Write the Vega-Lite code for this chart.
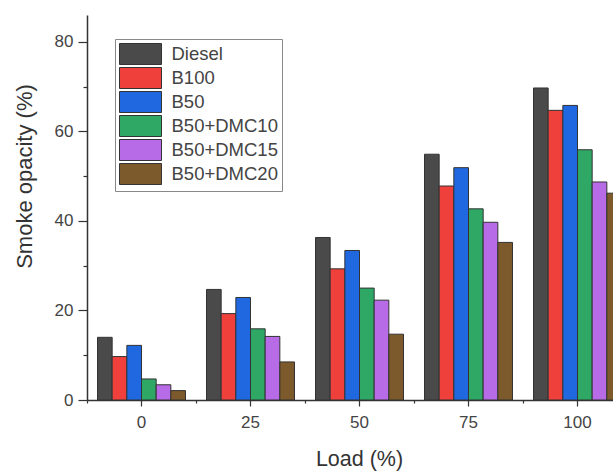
{
  "$schema": "https://vega.github.io/schema/vega-lite/v6.json",
  "autosize": {"type": "none"},
  "padding": {"left": 87, "top": 15, "right": 0, "bottom": 71},
  "width": 526,
  "height": 385,
  "background": "white",
  "config": {
    "view": {"stroke": null},
    "font": "Liberation Sans",
    "axis": {"labelFont": "Liberation Sans", "titleFont": "Liberation Sans", "labelColor": "#444", "titleColor": "#333", "domainColor": "#333", "tickColor": "#333", "grid": false}
  },
  "data": {"values": [
    {"load": "0", "fuel": "Diesel", "value": 14.0},
    {"load": "0", "fuel": "B100", "value": 9.7},
    {"load": "0", "fuel": "B50", "value": 12.2},
    {"load": "0", "fuel": "B50+DMC10", "value": 4.7},
    {"load": "0", "fuel": "B50+DMC15", "value": 3.4},
    {"load": "0", "fuel": "B50+DMC20", "value": 2.1},
    {"load": "25", "fuel": "Diesel", "value": 24.7},
    {"load": "25", "fuel": "B100", "value": 19.3},
    {"load": "25", "fuel": "B50", "value": 22.9},
    {"load": "25", "fuel": "B50+DMC10", "value": 15.9},
    {"load": "25", "fuel": "B50+DMC15", "value": 14.2},
    {"load": "25", "fuel": "B50+DMC20", "value": 8.5},
    {"load": "50", "fuel": "Diesel", "value": 36.3},
    {"load": "50", "fuel": "B100", "value": 29.3},
    {"load": "50", "fuel": "B50", "value": 33.4},
    {"load": "50", "fuel": "B50+DMC10", "value": 25.0},
    {"load": "50", "fuel": "B50+DMC15", "value": 22.3},
    {"load": "50", "fuel": "B50+DMC20", "value": 14.7},
    {"load": "75", "fuel": "Diesel", "value": 54.9},
    {"load": "75", "fuel": "B100", "value": 47.8},
    {"load": "75", "fuel": "B50", "value": 51.9},
    {"load": "75", "fuel": "B50+DMC10", "value": 42.7},
    {"load": "75", "fuel": "B50+DMC15", "value": 39.7},
    {"load": "75", "fuel": "B50+DMC20", "value": 35.2},
    {"load": "100", "fuel": "Diesel", "value": 69.7},
    {"load": "100", "fuel": "B100", "value": 64.7},
    {"load": "100", "fuel": "B50", "value": 65.8},
    {"load": "100", "fuel": "B50+DMC10", "value": 55.9},
    {"load": "100", "fuel": "B50+DMC15", "value": 48.7},
    {"load": "100", "fuel": "B50+DMC20", "value": 46.2}
  ]},
  "layer": [
    {
      "mark": {"type": "bar", "stroke": "#333", "strokeWidth": 1},
      "encoding": {
        "x": {"field": "load", "type": "nominal", "sort": ["0", "25", "50", "75", "100"],
          "scale": {"range": [0, 545], "paddingInner": 0, "paddingOuter": 0},
          "axis": {"orient": "bottom", "title": "Load (%)", "titleFontSize": 21.5, "titleFontWeight": "normal", "titleX": 272, "titleY": 65, "titleBaseline": "alphabetic", "titleAlign": "center", "labelAngle": 0, "labelFontSize": 17, "labelPadding": 8, "tickSize": 6, "domainWidth": 1.5, "tickWidth": 1.2}},
        "xOffset": {"field": "fuel", "type": "nominal", "sort": ["Diesel", "B100", "B50", "B50+DMC10", "B50+DMC15", "B50+DMC20"],
          "scale": {"paddingInner": 0, "paddingOuter": 0.716}},
        "y": {"field": "value", "type": "quantitative",
          "scale": {"domain": [0, 86], "nice": false},
          "axis": {"orient": "left", "title": "Smoke opacity (%)", "titleFontSize": 22, "titleFontWeight": "normal", "titleX": -63, "titleY": 161, "titleBaseline": "middle", "titleAlign": "center", "titleAngle": -90, "values": [0, 20, 40, 60, 80], "labelFontSize": 17, "labelPadding": 5, "tickSize": 9, "domainWidth": 1.5, "tickWidth": 1.2}},
        "color": {"field": "fuel", "type": "nominal", "sort": ["Diesel", "B100", "B50", "B50+DMC10", "B50+DMC15", "B50+DMC20"],
          "scale": {"domain": ["Diesel", "B100", "B50", "B50+DMC10", "B50+DMC15", "B50+DMC20"], "range": ["#4a4a4a", "#f0403c", "#1f68e0", "#2fa866", "#b76be6", "#7d5a2c"]},
          "legend": {"orient": "none", "legendX": 28, "legendY": 24, "title": null,
            "symbolType": "M-2,-1H2V1H-2Z", "symbolSize": 441, "symbolStrokeColor": "#333", "symbolStrokeWidth": 1, "symbolOpacity": 1,
            "labelFontSize": 18.5, "labelColor": "#444", "labelFont": "Liberation Sans", "rowPadding": -2, "symbolOffset": 10.5, "labelOffset": 20,
            "strokeColor": "#888", "padding": 4, "fillColor": "white"}}
      }
    },
    {
      "mark": {"type": "bar", "opacity": 0},
      "encoding": {
        "x": {"field": "load", "type": "nominal", "sort": ["0", "25", "50", "75", "100"],
          "axis": {"orient": "bottom", "bandPosition": 0, "labels": false, "domain": false, "title": null, "tickSize": 3, "tickWidth": 1.2}},
        "xOffset": {"field": "fuel", "type": "nominal", "sort": ["Diesel", "B100", "B50", "B50+DMC10", "B50+DMC15", "B50+DMC20"]},
        "y": {"field": "value", "type": "quantitative",
          "axis": {"orient": "left", "values": [10, 30, 50, 70], "labels": false, "domain": false, "title": null, "tickSize": 4, "tickWidth": 1.2}}
      }
    }
  ],
  "resolve": {"axis": {"x": "independent", "y": "independent"}}
}
